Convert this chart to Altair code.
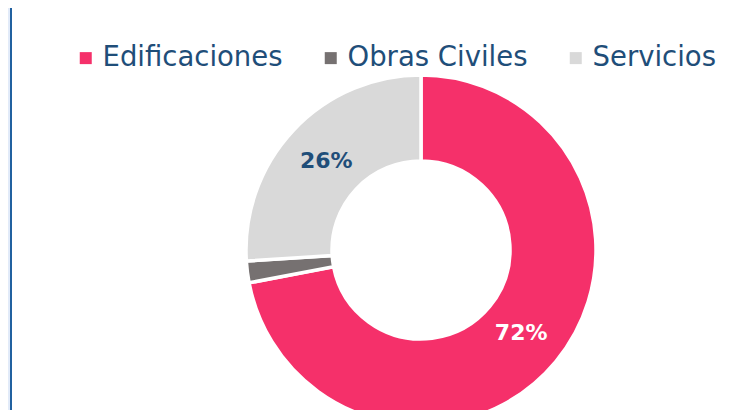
import altair as alt
import pandas as pd

# ---- data ----
categorias = ["Edificaciones", "Obras Civiles", "Servicios"]
valores = [72, 2, 26]
etiquetas = ["72%", "", "26%"]
colores = ["#F5306A", "#767171", "#D9D9D9"]
colores_texto = ["#FFFFFF", "#FFFFFF", "#1F4E79"]

df = pd.DataFrame({
    "categoria": categorias,
    "valor": valores,
    "etiqueta": etiquetas,
    "color_texto": colores_texto,
    "orden": list(range(len(categorias))),
})

W, H = 714, 402
CX, CY = 413, 242

base = alt.Chart(df).encode(
    theta=alt.Theta("valor:Q", stack=True),
    order=alt.Order("orden:Q"),
    x=alt.value(CX),
    y=alt.value(CY),
)

arc = base.mark_arc(outerRadius=175, innerRadius=89, stroke="white", strokeWidth=3.5).encode(
    color=alt.Color(
        "categoria:N",
        scale=alt.Scale(domain=categorias, range=colores),
        sort=categorias,
        legend=alt.Legend(
            title=None,
            orient="none",
            legendX=64,
            legendY=36,
            direction="horizontal",
            columns=3,
            symbolType="square",
            symbolSize=144,
            symbolStrokeWidth=0,
            symbolOpacity=1,
            labelFont="DejaVu Sans",
            labelFontSize=27.5,
            labelColor="#1F4E79",
            labelOffset=3,
            columnPadding=34,
            labelLimit=0,
        ),
    )
)

text = base.mark_text(radius=130, font="DejaVu Sans", fontSize=22, fontWeight="bold").encode(
    text="etiqueta:N",
    color=alt.Color("color_texto:N", scale=None),
)

deco = alt.Chart(pd.DataFrame({"d": [0]}))
strip = deco.mark_rect(color="#E2EBF9").encode(
    x=alt.value(0), x2=alt.value(2), y=alt.value(0), y2=alt.value(H)
)
line = deco.mark_rect(color="#2161A0").encode(
    x=alt.value(2), x2=alt.value(4), y=alt.value(0), y2=alt.value(H)
)

chart = alt.layer(strip, line, arc, text).resolve_scale(color="independent").properties(
    width=W,
    height=H,
    autosize=alt.AutoSizeParams(type="none"),
    padding=0,
    background="white",
).configure_view(stroke=None)

chart.save("out.html", embed_options={"renderer": "svg", "actions": False})
